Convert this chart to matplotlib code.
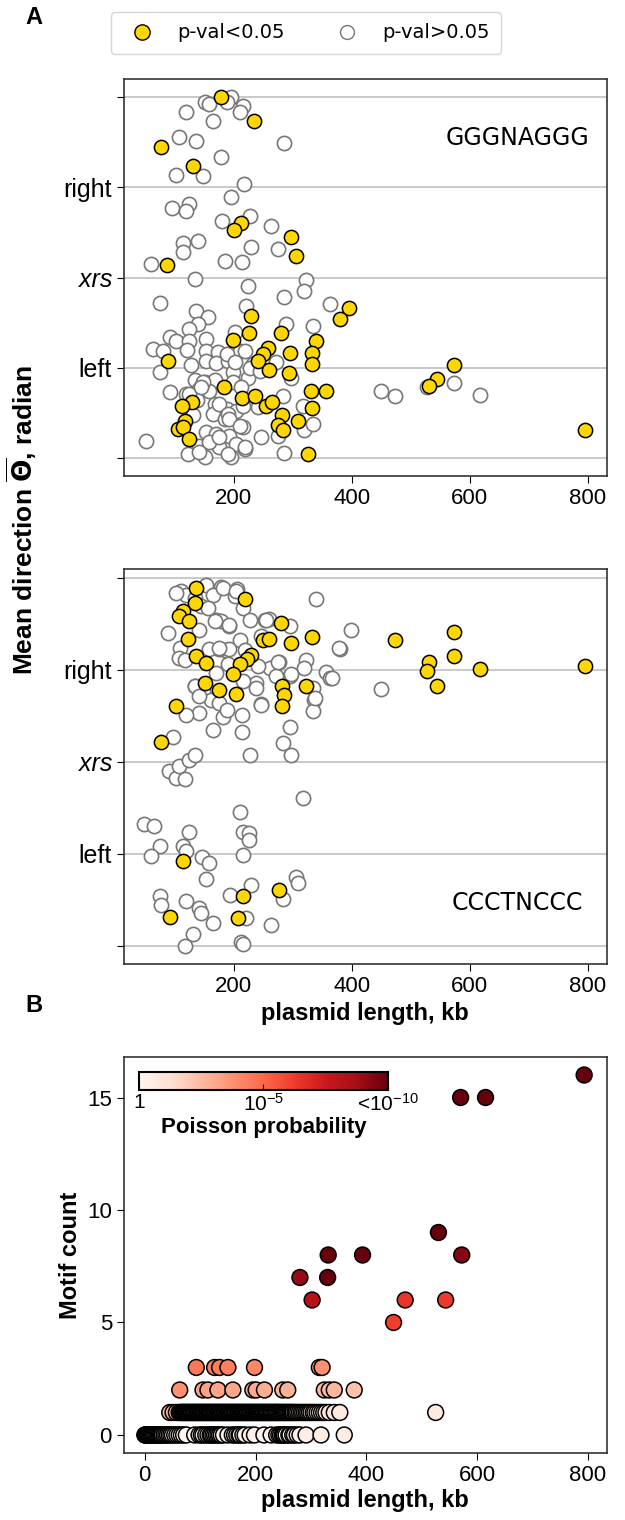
import numpy as np
import matplotlib
matplotlib.use('Agg')
import matplotlib.pyplot as plt
from matplotlib.lines import Line2D
from matplotlib.colors import Normalize
from matplotlib.cm import ScalarMappable

plt.rcParams['font.family'] = ['Liberation Sans', 'DejaVu Sans']
plt.rcParams['mathtext.default'] = 'regular'

# --- panel A, GGGNAGGG: plasmid length (kb) vs mean direction (rad) ---
g_len_sig = [179, 234, 77, 132, 213, 200, 297, 306, 87, 395,
             380, 230, 226, 199, 281, 340, 258, 250, 242, 295,
             332, 332, 260, 293, 89, 183, 215, 237, 331, 356,
             130, 113, 255, 265, 332, 117, 106, 115, 282, 275,
             284, 309, 124, 326, 573, 545, 531, 795]
g_dir_sig = [3.14, 2.73, 2.28, 1.95, 0.95, 0.83, 0.70, 0.37, 0.21, -0.53,
             -0.72, -0.67, -0.96, -1.08, -0.97, -1.10, -1.22, -1.33, -1.46, -1.31,
             -1.31, -1.51, -1.61, -1.66, -1.46, -1.91, -2.09, -2.07, -1.98, -1.98,
             -2.17, -2.23, -2.23, -2.17, -2.27, -2.49, -2.63, -2.60, -2.40, -2.56,
             -2.65, -2.50, -2.81, -3.08, -1.53, -1.76, -1.88, -2.65]
g_len_ns = [151, 159, 196, 188, 216, 210, 120, 165, 108, 136,
            285, 179, 103, 149, 217, 196, 96, 124, 120, 181,
            228, 263, 230, 275, 115, 140, 115, 60, 185, 215,
            134, 224, 322, 319, 285, 76, 363, 221, 136, 156,
            140, 289, 334, 125, 202, 92, 103, 124, 154, 63,
            80, 121, 154, 173, 210, 75, 128, 154, 170, 190,
            233, 199, 224, 298, 134, 151, 168, 199, 213, 92,
            120, 141, 159, 284, 138, 168, 188, 204, 216, 241,
            318, 131, 165, 185, 216, 247, 320, 51, 154, 171,
            193, 204, 220, 123, 151, 176, 196, 286, 142, 159,
            275, 450, 473, 527, 573, 618, 188, 219, 202, 227,
            244, 272, 148, 125, 145, 176, 190, 193, 210, 176,
            190, 219, 142, 334]
g_dir_ns = [3.05, 3.02, 3.14, 3.05, 2.99, 2.88, 2.88, 2.73, 2.45, 2.38,
            2.34, 2.09, 1.79, 1.77, 1.62, 1.40, 1.21, 1.28, 1.16, 0.99,
            1.08, 0.89, 0.54, 0.49, 0.61, 0.63, 0.44, 0.24, 0.29, 0.27,
            -0.03, -0.14, -0.04, -0.23, -0.33, -0.45, -0.46, -0.49, -0.59, -0.69,
            -0.81, -0.80, -0.84, -0.90, -0.95, -1.04, -1.11, -1.11, -1.07, -1.24,
            -1.27, -1.26, -1.27, -1.30, -1.27, -1.65, -1.52, -1.46, -1.48, -1.45,
            -1.50, -1.65, -1.74, -1.74, -1.79, -1.82, -1.78, -1.82, -1.90, -2.00,
            -2.03, -1.94, -1.97, -2.06, -2.14, -2.20, -2.29, -2.32, -2.23, -2.26,
            -2.23, -2.40, -2.37, -2.46, -2.61, -2.78, -2.66, -2.84, -2.69, -2.72,
            -2.75, -2.90, -2.98, -3.07, -3.13, -2.95, -3.13, -3.06, -2.93, -2.87,
            -2.75, -1.97, -2.06, -1.91, -1.84, -2.04, -1.33, -1.27, -1.47, -1.57,
            -1.62, -1.47, -1.82, -2.02, -1.91, -2.20, -2.37, -2.46, -2.58, -2.78,
            -3.07, -2.95, -3.04, -2.55]

# --- panel A, CCCTNCCC ---
c_len_sig = [136, 220, 134, 114, 108, 125, 123, 281, 250, 260,
             298, 332, 136, 154, 230, 222, 211, 199, 152, 175,
             204, 282, 286, 282, 322, 103, 77, 115, 277, 216,
             207, 92, 473, 573, 573, 531, 528, 545, 618, 795]
c_dir_sig = [2.97, 2.77, 2.71, 2.58, 2.48, 2.41, 2.09, 2.36, 2.07, 2.10,
             2.02, 2.13, 1.80, 1.69, 1.83, 1.75, 1.66, 1.50, 1.34, 1.22,
             1.16, 1.30, 1.14, 0.96, 1.30, 0.96, 0.33, -1.70, -2.18, -2.29,
             -2.67, -2.65, 2.07, 2.21, 1.81, 1.71, 1.55, 1.30, 1.59, 1.64]
c_len_ns = [111, 120, 154, 179, 205, 202, 165, 216, 340, 134,
            145, 156, 171, 179, 193, 227, 253, 260, 295, 89,
            142, 210, 185, 176, 193, 110, 108, 117, 159, 380,
            247, 277, 261, 241, 323, 320, 357, 363, 334, 336,
            295, 272, 238, 216, 190, 171, 134, 148, 162, 142,
            165, 182, 215, 215, 247, 120, 227, 295, 284, 298,
            334, 97, 91, 103, 117, 108, 125, 134, 318, 210,
            49, 66, 76, 60, 125, 115, 119, 147, 158, 154,
            216, 226, 226, 216, 306, 309, 230, 284, 75, 77,
            120, 142, 145, 165, 131, 117, 194, 221, 213, 216,
            264, 399, 450, 103, 182, 204, 168, 193, 176, 219,
            255, 275, 134, 142, 176, 238, 298, 337, 366, 379,
            188, 247]
c_dir_ns = [2.91, 2.85, 3.02, 2.99, 2.94, 2.82, 2.85, 2.62, 2.78, 2.79,
            2.65, 2.62, 2.42, 2.40, 2.31, 2.42, 2.42, 2.44, 2.32, 2.19,
            2.25, 2.08, 1.91, 1.92, 1.92, 1.94, 1.77, 1.74, 1.92, 1.92,
            2.15, 1.71, 1.60, 1.63, 1.74, 1.60, 1.54, 1.43, 1.26, 1.06,
            1.46, 1.46, 1.34, 1.37, 1.66, 1.51, 1.30, 1.20, 1.06, 0.83,
            0.55, 0.77, 0.79, 0.50, 0.99, 0.79, 0.12, 0.60, 0.32, 0.12,
            0.86, 0.43, -0.16, -0.28, -0.30, -0.08, 0.03, 0.12, -0.62, -0.85,
            -1.07, -1.10, -1.43, -1.60, -1.19, -1.43, -1.53, -1.63, -1.73, -2.00,
            -1.19, -1.21, -1.33, -1.59, -1.96, -2.07, -2.10, -2.34, -2.29, -2.44,
            -2.37, -2.50, -2.58, -2.75, -2.93, -3.14, -2.27, -2.67, -3.08, -3.11,
            -2.78, 2.24, 1.24, 2.88, 2.97, 2.91, 2.40, 2.34, 1.94, 1.91,
            2.42, 1.71, 1.29, 1.12, 1.00, 1.26, 1.49, 1.09, 1.43, 1.94,
            0.89, 0.97]

dir_ticks = [-np.pi, -np.pi / 2, 0, np.pi / 2, np.pi]
dir_labels = ['', 'left', 'xrs', 'right', '']

# --- panel B: motif counts, colour = -log10(Poisson probability) ---
len_c0 = [0, 1, 2, 3, 4, 5, 6, 7, 8, 9, 10, 11, 12, 14, 16, 18, 20, 22, 24, 26,
          28, 30, 32, 35, 38, 41, 44, 47, 50, 54, 58, 62, 66, 70, 75, 90, 98, 102,
          105, 110, 114, 118, 120, 123, 126, 129, 132, 135, 138, 142, 150, 158, 162,
          166, 170, 172, 177, 181, 190, 198, 215, 228, 238, 242, 245, 248, 250, 252,
          255, 260, 262, 267, 270, 275, 280, 291, 318, 360]
nlp_c0 = [0.0, 0.0, 0.0, 0.0, 0.0, 0.0, 0.0, 0.0, 0.0, 0.0,
          0.0, 0.0, 0.0, 0.05, 0.05, 0.05, 0.05, 0.05, 0.05, 0.05,
          0.05, 0.05, 0.05, 0.05, 0.05, 0.05, 0.05, 0.05, 0.1, 0.1,
          0.1, 0.1, 0.1, 0.1, 0.1, 0.15, 0.15, 0.15, 0.15, 0.15,
          0.15, 0.15, 0.15, 0.15, 0.2, 0.2, 0.2, 0.2, 0.2, 0.2,
          0.2, 0.2, 0.25, 0.25, 0.25, 0.25, 0.25, 0.25, 0.25, 0.3,
          0.3, 0.3, 0.35, 0.35, 0.35, 0.35, 0.35, 0.35, 0.35, 0.35,
          0.4, 0.4, 0.4, 0.4, 0.4, 0.4, 0.45, 0.5]
len_c1 = [45, 51, 57, 62, 64, 66, 68, 70, 71, 73, 75, 77, 78, 80, 82, 84, 85, 87, 89,
          90, 92, 94, 95, 97, 99, 100, 102, 104, 105, 107, 108, 110, 112, 113, 115,
          117, 118, 120, 121, 123, 125, 126, 128, 130, 131, 133, 135, 136, 138, 140,
          141, 143, 144, 146, 148, 149, 151, 153, 154, 156, 158, 159, 161, 163, 164,
          166, 168, 169, 171, 173, 174, 176, 178, 179, 181, 183, 185, 186, 188, 190,
          191, 193, 195, 196, 198, 200, 202, 203, 205, 207, 208, 210, 212, 214, 215,
          217, 219, 221, 222, 224, 226, 228, 229, 231, 233, 235, 237, 238, 240, 242,
          244, 246, 248, 250, 252, 254, 256, 258, 260, 262, 264, 266, 268, 271, 273,
          276, 279, 282, 285, 288, 291, 294, 297, 300, 304, 307, 311, 315, 319, 323,
          327, 333, 342, 352, 525]
nlp_c1 = [2.6, 2.5, 2.4, 2.3, 2.3, 2.3, 2.2, 2.2, 2.2, 2.2,
          2.1, 2.1, 2.1, 2.1, 2.0, 2.0, 2.0, 2.0, 2.0, 1.9,
          1.9, 1.9, 1.9, 1.9, 1.8, 1.8, 1.8, 1.8, 1.8, 1.8,
          1.7, 1.7, 1.7, 1.7, 1.7, 1.7, 1.7, 1.6, 1.6, 1.6,
          1.6, 1.6, 1.6, 1.6, 1.6, 1.5, 1.5, 1.5, 1.5, 1.5,
          1.5, 1.5, 1.5, 1.5, 1.4, 1.4, 1.4, 1.4, 1.4, 1.4,
          1.4, 1.4, 1.4, 1.4, 1.3, 1.3, 1.3, 1.3, 1.3, 1.3,
          1.3, 1.3, 1.3, 1.3, 1.3, 1.2, 1.2, 1.2, 1.2, 1.2,
          1.2, 1.2, 1.2, 1.2, 1.2, 1.2, 1.1, 1.1, 1.1, 1.1,
          1.1, 1.1, 1.1, 1.1, 1.1, 1.1, 1.1, 1.1, 1.0, 1.0,
          1.0, 1.0, 1.0, 1.0, 1.0, 1.0, 1.0, 1.0, 1.0, 1.0,
          1.0, 0.9, 0.9, 0.9, 0.9, 0.9, 0.9, 0.9, 0.9, 0.9,
          0.9, 0.9, 0.9, 0.9, 0.9, 0.9, 0.8, 0.8, 0.8, 0.8,
          0.8, 0.8, 0.8, 0.8, 0.8, 0.8, 0.8, 0.8, 0.8, 0.8,
          0.8, 0.8, 0.8, 0.7, 0.7]
len_c2 = [63, 105, 114, 132, 159, 195, 201, 216, 249, 258, 324, 333, 342, 378]
nlp_c2 = [3.8, 3.3, 3.3, 3.2, 3.1, 3.0, 3.0, 2.9, 2.8, 2.8, 2.6, 2.6, 2.6, 2.3]
len_c3 = [93, 126, 135, 150, 198, 315, 320]
nlp_c3 = [4.6, 4.4, 4.4, 4.3, 4.1, 3.8, 3.8]
len_hi = [449, 470, 543, 302, 280, 330, 572, 331, 393, 530, 570, 615, 793]
cnt_hi = [5, 6, 6, 6, 7, 7, 8, 8, 8, 9, 15, 15, 16]
nlp_hi = [6.2, 6.5, 6.3, 8.2, 9.1, 10, 9.4, 10, 10, 10, 10, 10, 10]

fig = plt.figure(figsize=(6.25, 15.2), dpi=100)
ax1 = fig.add_axes([0.198, 0.6868, 0.773, 0.2612])
ax2 = fig.add_axes([0.198, 0.3658, 0.773, 0.2599])
ax3 = fig.add_axes([0.198, 0.0441, 0.773, 0.2605])


def direction_panel(ax, x_ns, y_ns, x_s, y_s, motif, ty, ylim):
    ax.scatter(x_ns, y_ns, s=105, facecolor='white', edgecolor='#777777',
               linewidth=1.2, zorder=3)
    ax.scatter(x_s, y_s, s=105, facecolor='#FFD700', edgecolor='black',
               linewidth=1.1, zorder=4)
    ax.set_xlim(14, 832)
    ax.set_ylim(*ylim)
    ax.set_xticks([200, 400, 600, 800])
    ax.set_yticks(dir_ticks)
    ax.set_yticklabels(dir_labels)
    ax.get_yticklabels()[2].set_style('italic')
    ax.yaxis.grid(True, color='#c0c0c0', linewidth=1.2)
    ax.set_axisbelow(True)
    ax.tick_params(axis='x', labelsize=16, length=5)
    ax.tick_params(axis='y', labelsize=18, length=5)
    ax.text(0.815, ty, motif, transform=ax.transAxes, ha='center', va='center',
            fontsize=17, family='DejaVu Sans')


direction_panel(ax1, g_len_ns, g_dir_ns, g_len_sig, g_dir_sig, 'GGGNAGGG', 0.851,
                (-1.1 * np.pi, 1.1 * np.pi))
direction_panel(ax2, c_len_ns, c_dir_ns, c_len_sig, c_dir_sig, 'CCCTNCCC', 0.154,
                (-3.45, 3.29))
ax2.set_xlabel('plasmid length, kb', fontsize=17, fontweight='bold')

# panel B
b_len = len_c0 + len_c1 + len_c2 + len_c3 + len_hi
b_cnt = [0] * len(len_c0) + [1] * len(len_c1) + [2] * len(len_c2) + [3] * len(len_c3) + cnt_hi
b_nlp = nlp_c0 + nlp_c1 + nlp_c2 + nlp_c3 + nlp_hi
norm = Normalize(0, 10)
ax3.scatter(b_len, b_cnt, c=b_nlp, cmap='Reds', norm=norm, s=130,
            edgecolor='black', linewidth=1.1, zorder=3)
ax3.set_xlim(-38, 834)
ax3.set_ylim(-0.8, 16.8)
ax3.set_xticks([0, 200, 400, 600, 800])
ax3.set_yticks([0, 5, 10, 15])
ax3.tick_params(labelsize=16, length=5)
ax3.set_xlabel('plasmid length, kb', fontsize=17, fontweight='bold', labelpad=2)
ax3.set_ylabel('Motif count', fontsize=17, fontweight='bold')

for ax in (ax1, ax2, ax3):
    for sp in ax.spines.values():
        sp.set_color('#333333')
        sp.set_linewidth(1.2)

cax = fig.add_axes([0.2224, 0.2829, 0.398, 0.0118])
cb = fig.colorbar(ScalarMappable(norm=norm, cmap='Reds'), cax=cax,
                  orientation='horizontal', ticks=[0, 5, 10])
cb.ax.set_xticklabels(['1', '$10^{-5}$', '<$10^{-10}$'])
cb.ax.tick_params(labelsize=15, direction='in', length=4, pad=2)
cb.outline.set_linewidth(1.5)
cb.set_label('Poisson probability', fontsize=16, fontweight='bold', labelpad=2)

# legend and labels
handles = [Line2D([], [], ls='none', marker='o', markersize=11, markerfacecolor='#FFD700',
                  markeredgecolor='black', label='p-val<0.05'),
           Line2D([], [], ls='none', marker='o', markersize=10, markerfacecolor='white',
                  markeredgecolor='#777777', label='p-val>0.05')]
fig.legend(handles=handles, loc='center', bbox_to_anchor=(306 / 625, 1 - 33 / 1520),
           ncol=2, prop={'family': 'DejaVu Sans', 'size': 14},
           columnspacing=2.2, handletextpad=0.8, borderpad=0.6)

fig.text(25 / 625, 1 - 18 / 1520, 'A', fontsize=17, fontweight='bold', ha='left', va='center')
fig.text(25 / 625, 1 - 1005 / 1520, 'B', fontsize=17, fontweight='bold', ha='left', va='center')
fig.text(22 / 625, 0.658, r'Mean direction $\mathbf{\overline{\Theta}}$, radian',
         rotation=90, fontsize=19, fontweight='bold', ha='center', va='center')

fig.savefig('out.png', dpi=100)
